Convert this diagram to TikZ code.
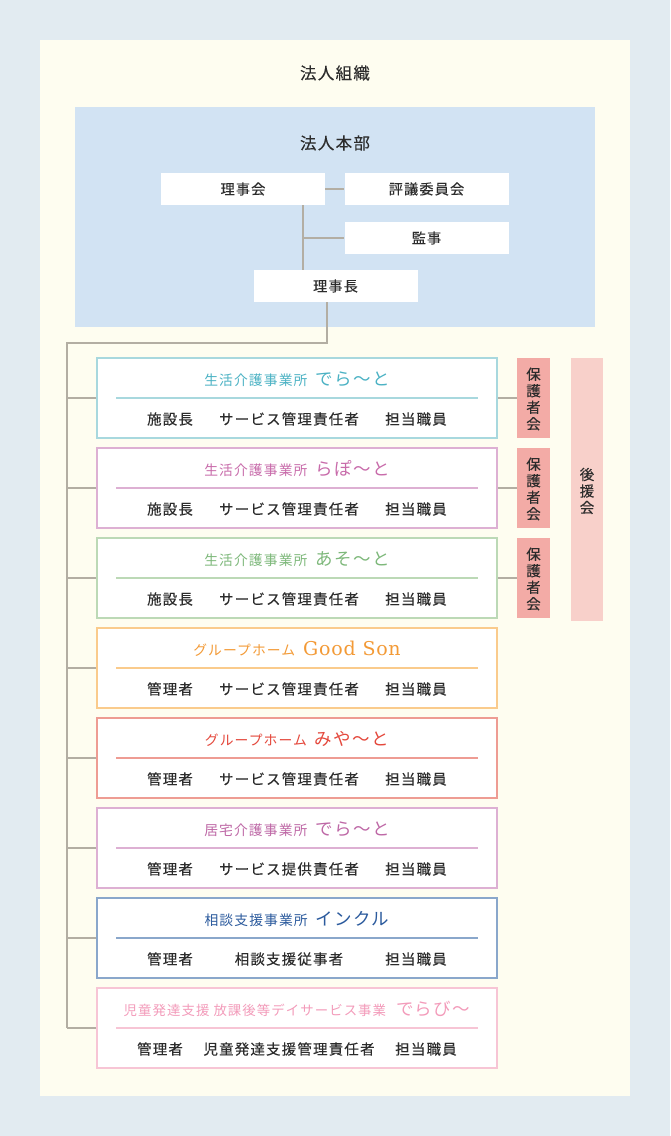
\documentclass[tikz,border=0pt]{standalone}
\usepackage{fontspec}
\setmainfont{Noto Sans CJK JP}[LetterSpace=8]
\newfontfamily\blk{Noto Sans CJK JP}[LetterSpace=8, FakeBold=0.15]
\newfontfamily\gsfont{DejaVu Serif}[LetterSpace=4]
\definecolor{outerbg}{HTML}{E2EBF1}
\definecolor{creambg}{HTML}{FEFDF0}
\definecolor{hqbg}{HTML}{D2E3F3}
\definecolor{linegray}{HTML}{B3AEA3}
\definecolor{txt}{HTML}{2C2C2C}
\definecolor{hogo}{HTML}{F3ABA6}
\definecolor{koen}{HTML}{F8D0CA}
\definecolor{cab}{HTML}{A8D8DE}\definecolor{cat}{HTML}{4BB2C4}
\definecolor{cbb}{HTML}{DDB0D3}\definecolor{cbt}{HTML}{C86BAA}
\definecolor{ccb}{HTML}{BCD9B6}\definecolor{cct}{HTML}{7DB87A}
\definecolor{cdb}{HTML}{FACB8C}\definecolor{cdt}{HTML}{F39A36}
\definecolor{ceb}{HTML}{EE9C93}\definecolor{cet}{HTML}{E4473B}
\definecolor{cfb}{HTML}{DDB0D3}\definecolor{cft}{HTML}{BE68A6}
\definecolor{cgb}{HTML}{8AA7CB}\definecolor{cgt}{HTML}{2B5A9D}
\definecolor{chb}{HTML}{F7C5D5}\definecolor{cht}{HTML}{F39BBA}
\newcommand\fs[1]{\fontsize{#1}{#1}\selectfont}
\tikzset{
  hqbox/.style={fill=white, minimum width=164pt, minimum height=32pt, inner sep=0pt, text=txt, font=\blk\fs{14.2}},
  unitbox/.style={fill=white, line width=1.5pt, minimum width=400pt, minimum height=80pt, inner sep=0pt},
  roletxt/.style={text=txt, font=\blk\fs{14.5}, inner sep=0pt},
  titletxt/.style={inner sep=0pt},
  conn/.style={draw=linegray, line width=1.2pt},
  sepline/.style={line width=1.5pt},
  vbox/.style={inner sep=0pt, text=txt, font=\blk\fontsize{14.5}{16.5}\selectfont, align=center},
}
\newcommand\orgunit[8]{%
  \node[unitbox, draw=#3b] (#1) at (297,#2) {};
  \node[titletxt, text=#3t] (#1t) at (297,#2-19) {{\fs{13.8}#4}\hspace{8pt}{\fs{17.5}#5}};
  \draw[sepline, draw=#3b] ([xshift=20pt]#1.west) -- ([xshift=-20pt]#1.east);
  \node[roletxt] (#1ra) at (170,#2+21) {#6};
  \node[roletxt] (#1rb) at (289,#2+21) {#7};
  \node[roletxt] (#1rc) at (416,#2+21) {#8};
  \draw[conn] (#1.west -| trunk) -- (#1.west);
}
\begin{document}
\begin{tikzpicture}[x=1pt,y=-1pt]
\useasboundingbox (0,0) rectangle (670,1136);
\fill[outerbg] (0,0) rectangle (670,1136);
\fill[creambg] (40,40) rectangle (630,1096);
\node[text=txt, font=\blk\fs{16.5}] (title) at (335,73) {法人組織};
\fill[hqbg] (75,107) rectangle (595,327);
\node[text=txt, font=\blk\fs{16.5}] (hq) at (335,143) {法人本部};
\node[hqbox] (rijikai) at (243,189) {理事会};
\node[hqbox] (hyogi) at (426.5,189) {評議委員会};
\node[hqbox] (kanji) at (426.5,238) {監事};
\node[hqbox] (rijicho) at (335.5,286) {理事長};
\coordinate (vx) at (303,0);
\coordinate (dx) at (327,0);
\coordinate (trunk) at (67,343);
\draw[conn] (rijikai.east) -- (hyogi.west);
\draw[conn] (rijikai.south -| vx) -- (rijicho.north -| vx);
\draw[conn] (kanji.west -| vx) -- (kanji.west);
\draw[conn] (rijicho.south -| dx) -- (trunk -| dx) -- (trunk) -- (67,1028);
\orgunit{ua}{398}{ca}{生活介護事業所}{でら～と}{施設長}{サービス管理責任者}{担当職員}
\orgunit{ub}{488}{cb}{生活介護事業所}{らぽ～と}{施設長}{サービス管理責任者}{担当職員}
\orgunit{uc}{578}{cc}{生活介護事業所}{あそ～と}{施設長}{サービス管理責任者}{担当職員}
\orgunit{ud}{668}{cd}{グループホーム}{{\gsfont\fs{19}Good Son}}{管理者}{サービス管理責任者}{担当職員}
\orgunit{ue}{758}{ce}{グループホーム}{みや～と}{管理者}{サービス管理責任者}{担当職員}
\orgunit{uf}{848}{cf}{居宅介護事業所}{でら～と}{管理者}{サービス提供責任者}{担当職員}
\orgunit{ug}{938}{cg}{相談支援事業所}{インクル}{管理者}{相談支援従事者}{担当職員}
% last unit with custom role positions
\node[unitbox, draw=chb] (uh) at (297,1028) {};
\node[titletxt, text=cht] (uht) at (297,1009) {{\fs{13.4}児童発達支援 放課後等デイサービス事業}\hspace{10pt}{\fs{17.5}でらび～}};
\draw[sepline, draw=chb] ([xshift=20pt]uh.west) -- ([xshift=-20pt]uh.east);
\node[roletxt] (uhra) at (160,1049) {管理者};
\node[roletxt] (uhrb) at (289,1049) {児童発達支援管理責任者};
\node[roletxt] (uhrc) at (426,1049) {担当職員};
\draw[conn] (uh.west -| trunk) -- (uh.west);
% parents' associations
\foreach \n/\y in {pa/398, pb/488, pc/578}{
  \node[fill=hogo, minimum width=33pt, minimum height=80pt, inner sep=0pt] (\n) at (533.5,\y) {};
  \node[vbox] at ([yshift=-1pt]\n.center) {保\\護\\者\\会};
}
\draw[conn] (ua.east) -- (pa.west);
\draw[conn] (ub.east) -- (pb.west);
\draw[conn] (uc.east) -- (pc.west);
\node[fill=koen, minimum width=32pt, minimum height=263pt, inner sep=0pt] (koenkai) at (587,489.5) {};
\node[vbox] (koentxt) at (587,491) {後\\援\\会};
\end{tikzpicture}
\end{document}
